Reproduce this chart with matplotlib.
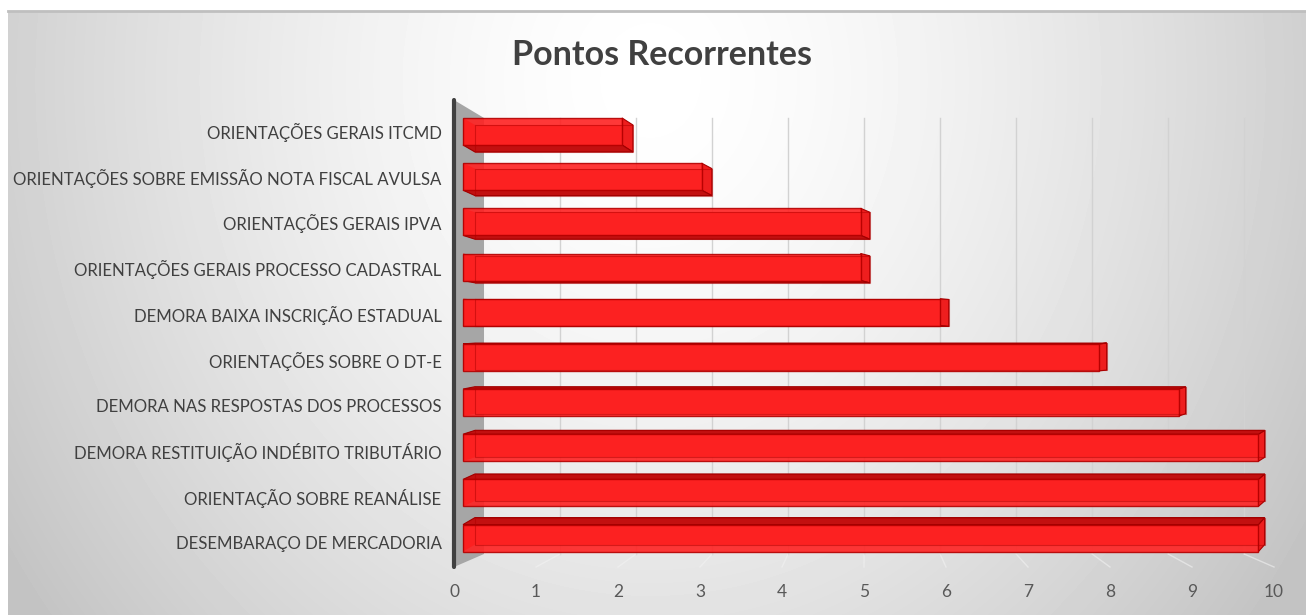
import numpy as np
import matplotlib.pyplot as plt

categories = [
    "ORIENTAÇÕES GERAIS ITCMD",
    "ORIENTAÇÕES SOBRE EMISSÃO NOTA FISCAL AVULSA",
    "ORIENTAÇÕES GERAIS IPVA",
    "ORIENTAÇÕES GERAIS PROCESSO CADASTRAL",
    "DEMORA BAIXA INSCRIÇÃO ESTADUAL",
    "ORIENTAÇÕES SOBRE O DT-E",
    "DEMORA NAS RESPOSTAS DOS PROCESSOS",
    "DEMORA RESTITUIÇÃO INDÉBITO TRIBUTÁRIO",
    "ORIENTAÇÃO SOBRE REANÁLISE",
    "DESEMBARAÇO DE MERCADORIA",
]
values = [2, 3, 5, 5, 6, 8, 9, 10, 10, 10]
x_ticks = list(range(0, 11))
title = "Pontos Recorrentes"

plt.rcParams['font.family'] = ['Lato', 'DejaVu Sans']

W, H = 1306, 615
fig = plt.figure(figsize=(W / 100, H / 100), dpi=100)

# chart area background: soft radial gradient, light near the title
bg = fig.add_axes([8 / W, 0, 1 - 8 / W, 1 - 11 / H])
xx, yy = np.meshgrid(np.arange(8, W), np.arange(11, H))
r = np.sqrt(((xx - 650) / 700.0) ** 2 + ((yy - 80) / 800.0) ** 2)
shade = 1 - (52 / 255) * np.clip(r, 0, 1.1) ** 1.5
bg.imshow(shade, cmap='gray', vmin=0, vmax=1, aspect='auto', interpolation='bilinear')
bg.axis('off')
fig.add_artist(plt.Line2D([8 / W, 1], [1 - 11 / H, 1 - 11 / H], color='#bfbfbf', lw=2))

# main axes: x in front-plane units (0 -> px 454, 10 -> px 1274)
ax = fig.add_axes([454 / W, 1 - 567 / H, 820 / W, 467 / H])
ax.set_facecolor('none')
y_top, y_bot = -0.788, 9.73
ax.set_xlim(0, 10)
ax.set_ylim(y_bot, y_top)
for s in ax.spines.values():
    s.set_visible(False)

# 3d geometry constants (pseudo perspective)
WALL = 0.366          # depth of the back plane in x units
BACK_TOP, BACK_BOT = -0.383, 9.437
GRID_S = 0.927        # back-plane scale
A_X0, A_S = 0.110, 0.970
B_X0, B_S = 0.256, 0.963
BAR_H = 27 / 44.4
DY_MAX = 7 / 44.4

# side wall
ax.fill([0, WALL, WALL, 0], [y_top, BACK_TOP, BACK_BOT, y_bot], color='#a6a6a6', zorder=1, lw=0)

# gridlines on the back plane + faint floor lines
for k in x_ticks[1:]:
    gx = WALL + k * GRID_S
    ax.plot([gx, gx], [BACK_TOP, BACK_BOT], color='#d2d2d2', lw=1, zorder=1)
    ax.plot([gx, k], [BACK_BOT, y_bot], color='#f2f2f2', lw=1, alpha=0.6, zorder=1, clip_on=False)

n = len(values)
pos = np.arange(n)
dys = DY_MAX * (1 - 2 * pos / (n - 1))
front_y = pos - dys / 2

for i, v in enumerate(values):
    d = dys[i]
    ya0 = front_y[i] - BAR_H / 2
    ya1 = ya0 + BAR_H
    yb0, yb1 = ya0 + d, ya1 + d
    ax0, ax1 = A_X0, A_X0 + v * A_S
    bx0, bx1 = B_X0, B_X0 + v * B_S
    # back face
    ax.fill([bx0, bx1, bx1, bx0], [yb0, yb0, yb1, yb1], color='#e61a1a', lw=0, zorder=3)
    # left face
    ax.fill([ax0, bx0, bx0, ax0], [ya0, yb0, yb1, ya1], color='#e21818', lw=0, zorder=3)
    # right face
    ax.fill([ax1, bx1, bx1, ax1], [ya0, yb0, yb1, ya1], facecolor='#ee1e1e',
            edgecolor='#a80000', lw=0.8, zorder=3)
    # top / bottom face
    if d > 0:
        bx, by = [ax0, ax1, bx1, bx0], [ya1, ya1, yb1, yb1]
    else:
        bx, by = [ax0, ax1, bx1, bx0], [ya0, ya0, yb0, yb0]
    ax.fill(bx, by, facecolor='#c21010', edgecolor='#a00000', lw=0.8, zorder=3)

# front faces
ax.barh(front_y, [v * A_S for v in values], left=A_X0, height=BAR_H,
        color='#ff2222', alpha=0.9, edgecolor='#b40000', lw=1, zorder=4)

# back face outlines showing through
for i, v in enumerate(values):
    d = dys[i]
    yb0 = front_y[i] - BAR_H / 2 + d
    yb1 = yb0 + BAR_H
    bx0, bx1 = B_X0, B_X0 + v * B_S
    ax.plot([bx0, bx1, bx1, bx0, bx0], [yb0, yb0, yb1, yb1, yb0],
            color='#b00000', lw=0.8, alpha=0.5, zorder=5)

# vertical axis line
ax.plot([0, 0], [y_top, y_bot], color='#404040', lw=3, solid_capstyle='round',
        clip_on=False, zorder=6)

ax.set_xticks(x_ticks)
ax.set_xticklabels([str(t) for t in x_ticks])
ax.set_yticks(pos * 1.03 - 0.09)
ax.set_yticklabels(categories)
ax.tick_params(axis='x', length=0, pad=12, labelsize=12.5, labelcolor='#595959')
ax.tick_params(axis='y', length=0, pad=9, labelsize=12.1, labelcolor='#404040')

fig.text(662 / W, 1 - 55 / H, title, ha='center', va='center', fontsize=24.5,
         fontweight='bold', color='#404040')

fig.savefig('out.png', dpi=100, facecolor='white')
